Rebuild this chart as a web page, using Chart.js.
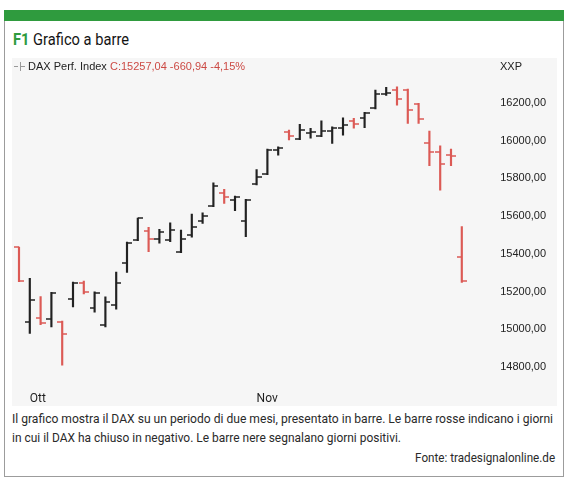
<!DOCTYPE html>
<html>
<head>
<meta charset="utf-8">
<script src="https://cdn.jsdelivr.net/npm/chart.js@4.4.1/dist/chart.umd.min.js"></script>
<style>
  html, body { margin: 0; padding: 0; background: #fff; }
  body { width: 571px; height: 491px; position: relative; overflow: hidden; font-family: Roboto, "Noto Sans", sans-serif; }
  #box { position: absolute; left: 4px; top: 10px; width: 560px; height: 467px; border: 1px solid #9c9c9c; box-sizing: border-box; }
  #band { position: absolute; left: 4px; top: 10px; width: 560px; height: 11px; background: #2f9b3e; }
  #title { position: absolute; left: 13px; top: 31px; font-size: 16.5px; font-weight: 400; color: #141414; white-space: nowrap; transform-origin: left top; line-height: 18px; }
  #title b { color: #2f9b3e; font-weight: 700; }
  #panel { position: absolute; left: 12px; top: 58px; width: 545px; height: 348px; background: #f6f6f6; }
  #chart { position: absolute; left: 12px; top: 58px; }
  #hdr { position: absolute; left: 28px; top: 59px; font: 11px "Liberation Sans", Arial, sans-serif; color: #222; white-space: nowrap; line-height: 14px; }
  #hdr .chg { color: #cc4a44; }
  #xxp { position: absolute; left: 500px; top: 59px; font: 11px "Liberation Sans", Arial, sans-serif; color: #222; line-height: 14px; }
  .ico { position: absolute; background: #9a9a9a; }
  .cap { position: absolute; left: 12px; font-size: 13.5px; color: #2a2a2a; white-space: nowrap; transform-origin: left top; line-height: 16px; }
  #src { position: absolute; right: 16px; top: 449px; font-size: 13.5px; color: #2a2a2a; white-space: nowrap; transform-origin: right top; line-height: 16px; }
</style>
</head>
<body>
<div id="box"></div>
<div id="band"></div>
<div id="title"><b>F1</b> Grafico a barre</div>
<div id="panel"></div>
<canvas id="chart" width="545" height="348"></canvas>
<div class="ico" style="left:14px;top:66px;width:4px;height:1px;"></div>
<div class="ico" style="left:21px;top:66px;width:4px;height:1px;"></div>
<div class="ico" style="left:20px;top:62px;width:1px;height:9px;"></div>
<div id="hdr">DAX Perf. Index <span class="chg" id="chg"></span></div>
<div id="xxp">XXP</div>
<div class="cap" id="cap1" style="top:410px;">Il grafico mostra il DAX su un periodo di due mesi, presentato in barre. Le barre rosse indicano i giorni</div>
<div class="cap" id="cap2" style="top:429px;">in cui il DAX ha chiuso in negativo. Le barre nere segnalano giorni positivi.</div>
<div id="src">Fonte: tradesignalonline.de</div>

<script>
// Trading days, 30 Sep – 26 Nov 2021
const days = [
  '2021-09-30', '2021-10-01',
  '2021-10-04', '2021-10-05', '2021-10-06', '2021-10-07', '2021-10-08',
  '2021-10-11', '2021-10-12', '2021-10-13', '2021-10-14', '2021-10-15',
  '2021-10-18', '2021-10-19', '2021-10-20', '2021-10-21', '2021-10-22',
  '2021-10-25', '2021-10-26', '2021-10-27', '2021-10-28', '2021-10-29',
  '2021-11-01', '2021-11-02', '2021-11-03', '2021-11-04', '2021-11-05',
  '2021-11-08', '2021-11-09', '2021-11-10', '2021-11-11', '2021-11-12',
  '2021-11-15', '2021-11-16', '2021-11-17', '2021-11-18', '2021-11-19',
  '2021-11-22', '2021-11-23', '2021-11-24', '2021-11-25', '2021-11-26'
];

// DAX daily open / high / low / close
const opens = [
  15434, 15040, 15062, 15052, 15040, 15162, 15245, 15115, 15022, 15128,
  15349, 15476, 15521, 15477, 15473, 15411, 15500, 15576, 15654, 15724,
  15685, 15576, 15769, 15822, 15951, 16045, 16009, 16041, 16027, 16051,
  16069, 16105, 16122, 16172, 16247, 16269, 16269, 16193, 15986, 15942,
  15924, 15381
];
const highs = [
  15436, 15270, 15173, 15196, 15043, 15250, 15256, 15198, 15172, 15303,
  15462, 15590, 15541, 15530, 15565, 15526, 15611, 15618, 15777, 15742,
  15707, 15689, 15847, 15956, 15968, 16057, 16087, 16066, 16105, 16074,
  16122, 16119, 16151, 16269, 16283, 16286, 16274, 16198, 16051, 15973,
  15956, 15544
];
const lows = [
  15252, 14978, 15025, 15012, 14810, 15119, 15187, 15091, 15013, 15107,
  15302, 15470, 15411, 15456, 15464, 15406, 15488, 15562, 15650, 15668,
  15629, 15491, 15765, 15820, 15924, 16004, 16006, 16013, 16021, 15986,
  16030, 16066, 16069, 16168, 16240, 16189, 16092, 16092, 15867, 15738,
  15867, 15249
];
const closes = [
  15257, 15153, 15033, 15194, 14973, 15248, 15197, 15195, 15146, 15248,
  15460, 15588, 15477, 15517, 15526, 15477, 15541, 15601, 15760, 15703,
  15700, 15685, 15809, 15951, 15960, 16027, 16057, 16048, 16051, 16066,
  16083, 16087, 16145, 16246, 16252, 16221, 16163, 16115, 15938, 15875,
  15917.98, 15257.04
];

const priceTicks = [14800, 15000, 15200, 15400, 15600, 15800, 16000, 16200];
const monthNames = { '10': 'Ott', '11': 'Nov', '12': 'Dic' };

const UP = '#222222';
const DOWN = '#dc5a55';

const isDown = i => closes[i] < opens[i];
const barColors = days.map((d, i) => isDown(i) ? DOWN : UP);

// Header: last close, change and percentage
const fmt = (v, d) => v.toFixed(d).replace('.', ',');
(function () {
  const n = closes.length;
  const last = closes[n - 1], prev = closes[n - 2];
  const diff = last - prev;
  document.getElementById('chg').textContent =
    'C:' + fmt(last, 2) + ' ' + fmt(diff, 2) + ' ' + fmt(diff / prev * 100, 2) + '%';
})();

// Tick glyphs: open tick to the left, close tick to the right
function tickGlyph(color, side) {
  const c = document.createElement('canvas');
  c.width = 10; c.height = 2;
  const g = c.getContext('2d');
  g.fillStyle = color;
  g.fillRect(side === 'left' ? 0 : 5, 0.25, 5, 1.5);
  return c;
}
const glyph = {
  openUp: tickGlyph(UP, 'left'), openDown: tickGlyph(DOWN, 'left'),
  closeUp: tickGlyph(UP, 'right'), closeDown: tickGlyph(DOWN, 'right')
};

const tickPoints = {
  type: 'line',
  showLine: false,
  pointRadius: 1,
  pointHoverRadius: 1,
  pointBorderWidth: 0,
  order: 1
};

new Chart(document.getElementById('chart'), {
  type: 'bar',
  data: {
    labels: days,
    datasets: [
      {
        label: 'range',
        data: days.map((d, i) => [lows[i], highs[i]]),
        backgroundColor: barColors,
        borderWidth: 0,
        barThickness: 1.5,
        order: 2
      },
      Object.assign({}, tickPoints, {
        label: 'open',
        data: opens,
        pointStyle: ctx => isDown(ctx.dataIndex) ? glyph.openDown : glyph.openUp
      }),
      Object.assign({}, tickPoints, {
        label: 'close',
        data: closes,
        pointStyle: ctx => isDown(ctx.dataIndex) ? glyph.closeDown : glyph.closeUp
      })
    ]
  },
  options: {
    responsive: false,
    animation: false,
    devicePixelRatio: 1,
    events: [],
    layout: { autoPadding: false, padding: { left: 1.6, top: 17, right: 0, bottom: 0 } },
    plugins: { legend: { display: false }, tooltip: { enabled: false }, title: { display: false } },
    scales: {
      x: {
        offset: true,
        grid: { display: false, drawTicks: false },
        border: { display: false },
        afterFit: s => { s.height = 21; s.paddingLeft = 0; s.paddingRight = 0; },
        ticks: {
          autoSkip: false,
          maxRotation: 0,
          minRotation: 0,
          align: 'start',
          padding: 7,
          color: '#1e1e1e',
          font: { family: 'Roboto', size: 12 },
          callback: (v, i) => {
            if (i === 0) return '';
            const m = days[i].slice(5, 7);
            return m !== days[i - 1].slice(5, 7) ? (monthNames[m] || '') : '';
          }
        }
      },
      y: {
        position: 'right',
        min: 14704.5,
        max: 16348.5,
        grid: { display: false, drawTicks: false },
        border: { display: false },
        afterFit: s => { s.width = 89.8; s.paddingTop = 0; s.paddingBottom = 0; },
        afterBuildTicks: s => { s.ticks = priceTicks.map(v => ({ value: v })); },
        ticks: {
          padding: 33,
          color: '#222',
          font: { family: 'Liberation Sans', size: 11 },
          callback: v => fmt(v, 2)
        }
      }
    }
  }
});

// Text lines: fit each to its measured width in the layout
function fitWidth(id, target) {
  const el = document.getElementById(id);
  const w = el.getBoundingClientRect().width;
  el.style.transform = 'scaleX(' + (target / w) + ')';
}
fitWidth('title', 116);
fitWidth('cap1', 541);
fitWidth('cap2', 389);
fitWidth('src', 140);
</script>
</body>
</html>
